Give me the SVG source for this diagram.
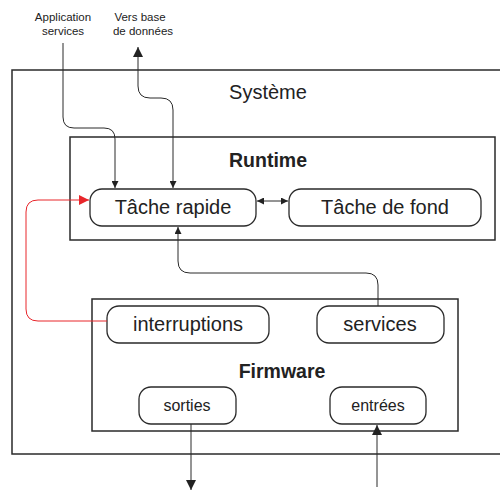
<svg xmlns="http://www.w3.org/2000/svg" width="500" height="491" viewBox="0 0 500 491">
<defs>
<style>
.frame{fill:none;stroke:#2a2a2a;stroke-width:1.5}
.node{fill:#fff;stroke:#2a2a2a;stroke-width:1.3}
.conn{fill:none;stroke:#2a2a2a;stroke-width:1}
.red{fill:none;stroke:#e8262b;stroke-width:1}
text{font-family:"Liberation Sans",Arial,sans-serif;fill:#222;text-anchor:middle}
.lbl{font-size:20px}
.sm{font-size:16px}
.title{font-size:19.5px;font-weight:bold}
.ext{font-size:11.5px}
</style>
<marker id="ah" viewBox="0 0 10 10" refX="10" refY="5" markerWidth="7" markerHeight="7" markerUnits="userSpaceOnUse" orient="auto-start-reverse"><path d="M0,0 L10,5 L0,10 z" fill="#222"/></marker>
<marker id="ahr" viewBox="0 0 10 10" refX="10" refY="5" markerWidth="10" markerHeight="10" markerUnits="userSpaceOnUse" orient="auto"><path d="M0,0 L10,5 L0,10 z" fill="#e8262b"/></marker>
<marker id="ahb" viewBox="0 0 10 10" refX="10" refY="5" markerWidth="12" markerHeight="10" markerUnits="userSpaceOnUse" orient="auto"><path d="M0,0 L10,5 L0,10 z" fill="#222"/></marker>
</defs>
<rect width="500" height="491" fill="#fff"/>
<g id="systeme">
<rect class="frame" x="12" y="70" width="500" height="384"/>
<text x="268" y="99" style="font-size:20px">Système</text>
</g>
<g id="runtime">
<rect class="frame" x="70" y="137" width="425" height="103"/>
<text class="title" x="268" y="167">Runtime</text>
</g>
<g id="firmware">
<rect class="frame" x="92" y="299" width="366" height="132"/>
<text class="title" x="282" y="378">Firmware</text>
</g>
<g id="tache-rapide">
<rect class="node" x="90" y="189" width="166" height="37" rx="12"/>
<text class="lbl" x="173" y="214">Tâche rapide</text>
</g>
<g id="tache-de-fond">
<rect class="node" x="289" y="189" width="192" height="37" rx="12"/>
<text class="lbl" x="385" y="214">Tâche de fond</text>
</g>
<g id="interruptions">
<rect class="node" x="107" y="306" width="162" height="37" rx="12"/>
<text class="lbl" x="188" y="331">interruptions</text>
</g>
<g id="services">
<rect class="node" x="317" y="306" width="127" height="37" rx="12"/>
<text class="lbl" x="380" y="331">services</text>
</g>
<g id="sorties">
<rect class="node" x="139" y="387" width="97" height="37" rx="12"/>
<text class="sm" x="187" y="411">sorties</text>
</g>
<g id="entrees">
<rect class="node" x="330" y="387" width="96" height="37" rx="12"/>
<text class="sm" x="378" y="411">entrées</text>
</g>
<g id="app-services">
<text class="ext" x="63" y="21">Application</text>
<text class="ext" x="63" y="35">services</text>
</g>
<g id="base-donnees">
<text class="ext" x="140" y="21">Vers base</text>
<text class="ext" x="143" y="35">de données</text>
</g>
<g id="connectors">
<path class="conn" d="M63,43 V117 Q63,128 74,128 H104 Q115,128 115,139 V188" marker-end="url(#ah)"/>
<path class="conn" d="M173,188 V110 Q173,98 161,98 H150 Q138,98 138,86 V47" marker-start="url(#ah)" marker-end="url(#ahb)"/>
<path class="conn" d="M257,201 H288" marker-start="url(#ah)" marker-end="url(#ah)"/>
<path class="conn" d="M378,306 V285 Q378,273 366,273 H190 Q178,273 178,261 V227" marker-end="url(#ah)"/>
<path class="red" d="M107,321 H38 Q26,321 26,309 V212 Q26,200 38,200 H89" marker-end="url(#ahr)"/>
<path class="conn" d="M191,424 V490" marker-end="url(#ahb)"/>
<path class="conn" d="M377,487 V425" marker-end="url(#ahb)"/>
</g>
</svg>
